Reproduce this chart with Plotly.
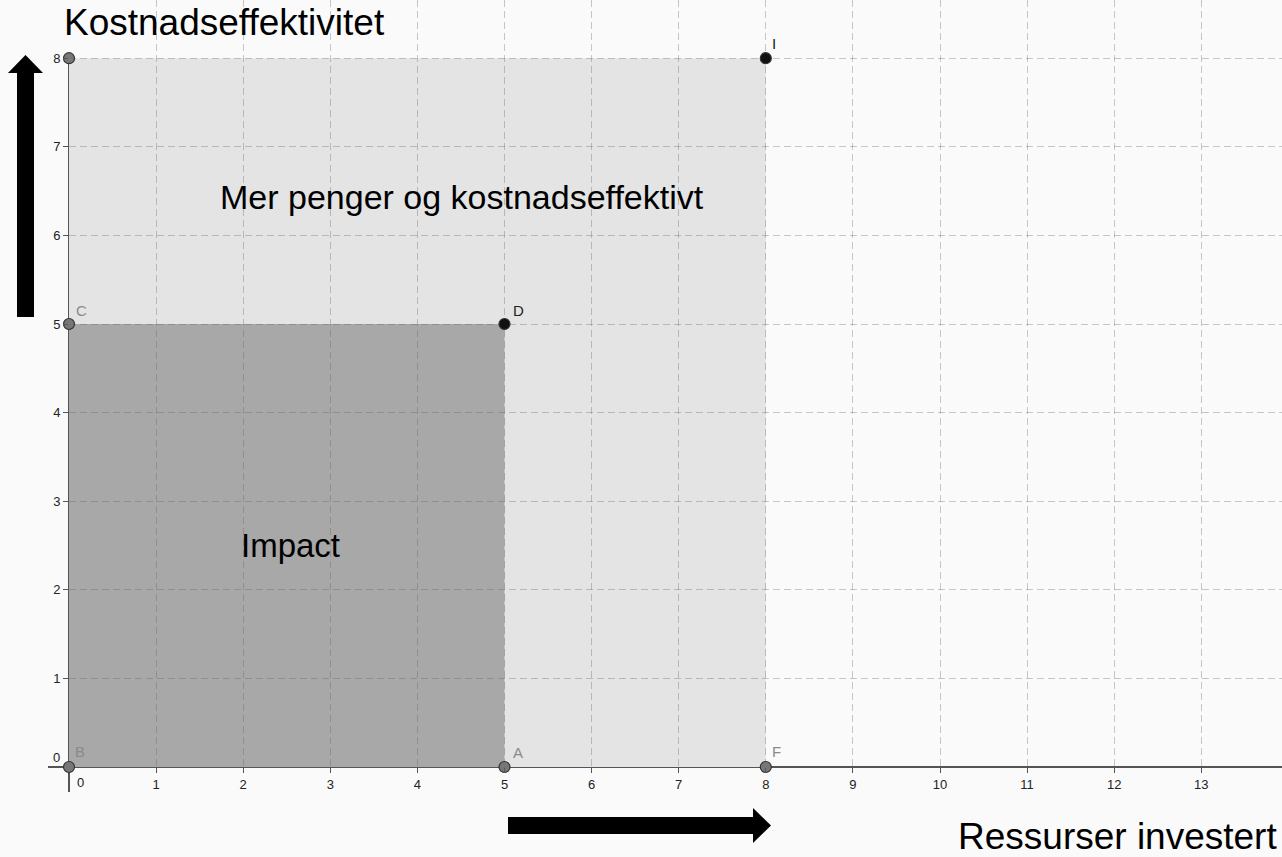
import plotly.graph_objects as go

# points in the diagram (x, y)
point_names = ["B", "A", "F", "C", "D", "I", ""]
point_x = [0, 5, 8, 0, 5, 8, 0]
point_y = [0, 0, 0, 5, 5, 8, 8]
point_kind = ["gray", "gray", "gray", "gray", "black", "black", "gray"]

# shaded regions: corners (x0, y0, x1, y1)
outer_region = [0, 0, 8, 8]
inner_region = [0, 0, 5, 5]

x_ticks = list(range(1, 14))
y_ticks = list(range(1, 9))

W, H = 1282, 857
FONT = "Arial, Liberation Sans, sans-serif"


def px(x, y):
    # pixel -> paper coordinates
    return x / W, 1 - y / H


def poly_path(pts):
    coords = [px(a, b) for a, b in pts]
    return "M " + " L ".join(f"{a:.5f},{b:.5f}" for a, b in coords) + " Z"


fig = go.Figure()

marker_fill = {"gray": "#777777", "black": "#111111"}
fig.add_trace(go.Scatter(
    x=point_x, y=point_y, mode="markers",
    marker=dict(size=11, color=[marker_fill[k] for k in point_kind],
                line=dict(color="#333333", width=1.2)),
    cliponaxis=False, hoverinfo="skip", showlegend=False,
))

shapes = []
# shaded rectangles (below the grid)
shapes.append(dict(type="rect", xref="x", yref="y", layer="below",
                   x0=outer_region[0], y0=outer_region[1],
                   x1=outer_region[2], y1=outer_region[3],
                   fillcolor="#e4e4e4", line=dict(width=0)))
shapes.append(dict(type="rect", xref="x", yref="y", layer="below",
                   x0=inner_region[0], y0=inner_region[1],
                   x1=inner_region[2], y1=inner_region[3],
                   fillcolor="#a8a8a8", line=dict(width=0)))

# axis lines
x0p, y0p = px(48, 767)
x1p, _ = px(W, 767)
shapes.append(dict(type="line", xref="paper", yref="paper", layer="between",
                   x0=x0p, y0=y0p, x1=x1p, y1=y0p,
                   line=dict(color="#555555", width=2)))
xa, ya = px(69, 58)
_, yb = px(69, 792)
shapes.append(dict(type="line", xref="paper", yref="paper", layer="between",
                   x0=xa, y0=ya, x1=xa, y1=yb,
                   line=dict(color="#555555", width=2)))

# big arrows
up_arrow = [(17, 317), (17, 73), (8, 73), (25.5, 55), (43, 73), (34, 73), (34, 317)]
right_arrow = [(508, 817), (753, 817), (753, 808), (771, 825.5), (753, 843), (753, 834), (508, 834)]
for arr in (up_arrow, right_arrow):
    shapes.append(dict(type="path", xref="paper", yref="paper", layer="above",
                       path=poly_path(arr), fillcolor="black", line=dict(width=0)))

annotations = []
# point labels
label_off = {"B": (10, -16), "A": (12, -15), "F": (10, -16),
             "C": (11, -14), "D": (13, -14), "I": (7, -15)}
label_col = {"gray": "#8a8a8a", "black": "#222222"}
for name, x, y, k in zip(point_names, point_x, point_y, point_kind):
    if not name:
        continue
    dx, dy = label_off[name]
    annotations.append(dict(x=x, y=y, xref="x", yref="y", text=name,
                            showarrow=False, xshift=dx + 1, yshift=-dy,
                            font=dict(family=FONT, size=15, color=label_col[k])))

# origin "0" labels
for (lx, ly) in [(80, 782), (56, 757)]:
    a, b = px(lx, ly)
    annotations.append(dict(x=a, y=b, xref="paper", yref="paper", text="0",
                            xanchor="center", yanchor="middle", showarrow=False,
                            font=dict(family=FONT, size=13, color="#222222")))

# text blocks
def text_ann(txt, x, y, size, xanchor="center"):
    a, b = px(x, y)
    return dict(x=a, y=b, xref="paper", yref="paper", text=txt, showarrow=False,
                xanchor=xanchor, yanchor="middle",
                font=dict(family=FONT, size=size, color="#000000"))

annotations.append(text_ann("Kostnadseffektivitet", 62, 23, 37, "left"))
annotations.append(text_ann("Mer penger og kostnadseffektivt", 462, 197, 34))
annotations.append(text_ann("Impact", 290, 545, 33))
annotations.append(text_ann("Ressurser investert", 1279, 836, 37, "right"))

grid_col = "rgba(90,90,90,0.32)"
fig.update_layout(
    width=W, height=H, autosize=False,
    margin=dict(l=0, r=0, t=0, b=0),
    paper_bgcolor="#fafafa", plot_bgcolor="#fafafa",
    shapes=shapes, annotations=annotations,
    xaxis=dict(domain=[69 / W, 1], range=[0, (W - 69) / 87.1],
               tickvals=x_ticks, ticks="outside", ticklen=5, tickcolor="#555555",
               tickfont=dict(family=FONT, size=13, color="#222222"),
               showgrid=True, gridcolor=grid_col, griddash="7px,4px", gridwidth=1,
               zeroline=False, showline=False, fixedrange=True),
    yaxis=dict(domain=[(H - 767) / H, 1], range=[0, 767 / 88.6],
               tickvals=y_ticks, ticks="outside", ticklen=5, tickcolor="#555555",
               tickfont=dict(family=FONT, size=13, color="#222222"),
               showgrid=True, gridcolor=grid_col, griddash="7px,4px", gridwidth=1,
               zeroline=False, showline=False, fixedrange=True),
)

fig.write_html("out.html", config={"displayModeBar": False},
               post_script="document.body.style.margin='0';document.body.style.overflow='hidden';")
